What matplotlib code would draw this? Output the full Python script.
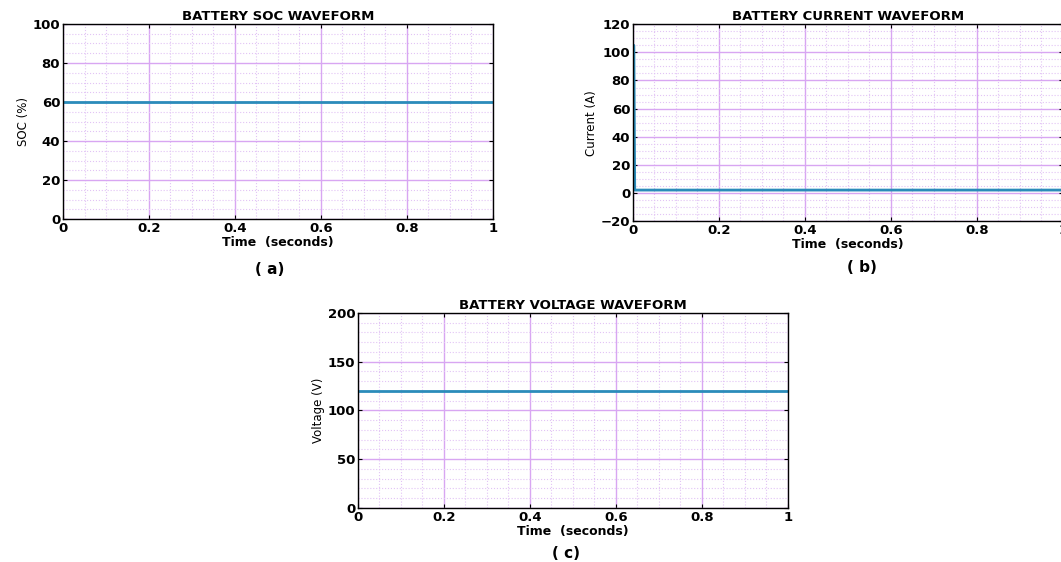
import numpy as np
import matplotlib.pyplot as plt
from matplotlib.ticker import MultipleLocator

# data
t_soc = [0.0, 1.0]
soc = [60.0, 60.0]

t_cur = [0.0, 0.002, 0.004, 0.25, 0.5, 0.75, 1.0]
cur = [105.0, 105.0, 2.0, 2.0, 2.0, 2.0, 2.0]

t_volt = [0.0, 1.0]
volt = [120.0, 120.0]

line_col = '#2b8cba'
major_col = '#d8a6f2'
minor_col = '#e2c4f5'

plt.rcParams['font.family'] = 'DejaVu Sans'

fig = plt.figure(figsize=(10.61, 5.62), dpi=100)

def setup(ax, title, ylabel, ylim, ymaj, ymin):
    ax.set_xlim(0, 1)
    ax.set_ylim(*ylim)
    ax.xaxis.set_major_locator(MultipleLocator(0.2))
    ax.xaxis.set_minor_locator(MultipleLocator(0.05))
    ax.yaxis.set_major_locator(MultipleLocator(ymaj))
    ax.yaxis.set_minor_locator(MultipleLocator(ymin))
    ax.grid(which='major', color=major_col, linewidth=1.0)
    ax.grid(which='minor', color=minor_col, linestyle=':', linewidth=0.8)
    ax.set_axisbelow(True)
    ax.tick_params(which='both', direction='in', top=True, right=True,
                   labelsize=9.5, pad=2)
    ax.tick_params(which='minor', length=0)
    ax.tick_params(which='major', length=3)
    ax.xaxis.set_major_formatter(plt.FuncFormatter(lambda v, p: '%g' % round(v, 2)))
    ax.set_title(title, fontsize=9.5, fontweight='bold', pad=3)
    ax.set_xlabel('Time  (seconds)', fontsize=9, fontweight='bold', labelpad=1)
    ax.set_ylabel(ylabel, fontsize=8.5, labelpad=2)
    for s in ax.spines.values():
        s.set_linewidth(1.0)

ax1 = fig.add_axes([0.0594, 0.6103, 0.405, 0.347])
ax1.plot(t_soc, soc, color=line_col, linewidth=2)
setup(ax1, 'BATTERY SOC WAVEFORM', 'SOC (%)', (0, 100), 20, 5)

ax2 = fig.add_axes([0.5966, 0.6068, 0.405, 0.350])
ax2.plot(t_cur, cur, color=line_col, linewidth=2)
setup(ax2, 'BATTERY CURRENT WAVEFORM', 'Current (A)', (-20, 120), 20, 5)

ax3 = fig.add_axes([0.3374, 0.0961, 0.405, 0.347])
ax3.plot(t_volt, volt, color=line_col, linewidth=2)
setup(ax3, 'BATTERY VOLTAGE WAVEFORM', 'Voltage (V)', (0, 200), 50, 10)

for ax in (ax1, ax2, ax3):
    for lab in ax.get_xticklabels() + ax.get_yticklabels():
        lab.set_fontweight('bold')

fig.text(270 / 1061, 1 - 270 / 562, '( a)', ha='center', va='center',
         fontsize=11, fontweight='bold')
fig.text(862 / 1061, 1 - 267 / 562, '( b)', ha='center', va='center',
         fontsize=11, fontweight='bold')
fig.text(566 / 1061, 1 - 553 / 562, '( c)', ha='center', va='center',
         fontsize=11, fontweight='bold')

fig.savefig('out.png', dpi=100)
